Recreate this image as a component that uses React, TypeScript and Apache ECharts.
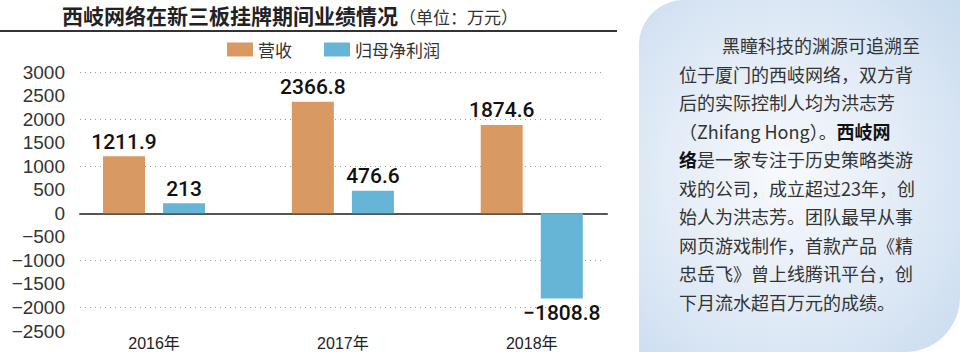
import React, { useEffect, useRef } from "react";
import * as echarts from "echarts";

const categories = ["2016年", "2017年", "2018年"];
const revenue = [1211.9, 2366.8, 1874.6];
const netProfit = [213, 476.6, -1808.8];
const seriesNames = ["营收", "归母净利润"];
const yLabelMin = -2500;
const yLabelMax = 3000;
const gridLineMin = -2000;
const titleMain = "西岐网络在新三板挂牌期间业绩情况";
const titleUnit = "（单位：万元）";
const panelLines = [
  "黑瞳科技的渊源可追溯至",
  "位于厦门的西岐网络，双方背",
  "后的实际控制人均为洪志芳",
  "{n|（Zhifang Hong）。}{b|西岐网}",
  "{b|络}{n|是一家专注于历史策略类游}",
  "戏的公司，成立超过23年，创",
  "始人为洪志芳。团队最早从事",
  "网页游戏制作，首款产品《精",
  "忠岳飞》曾上线腾讯平台，创",
  "下月流水超百万元的成绩。",
];

const ORANGE = "#D89A62";
const BLUE = "#67B5D6";
const SANS = "'Liberation Sans', Arial, 'Noto Sans CJK SC', sans-serif";
const NUM = "Roboto, 'Liberation Sans', Arial, sans-serif";
const CJK = "'Noto Sans CJK SC', 'Liberation Sans', sans-serif";

const fmt = (v: number) => (v < 0 ? "\u2212" : "") + Math.abs(v);

export default function App() {
  const ref = useRef<HTMLDivElement>(null);
  useEffect(() => {
    document.body.style.margin = "0";
    const chart = echarts.init(ref.current!, undefined, { renderer: "svg" });
    const toData = (arr: number[]) =>
      arr.map((v) => ({ value: v, label: { position: v < 0 ? "bottom" : "top" } }));
    const top = 72;
    const bottom = 24;
    const plotH = 355 - top - bottom;
    const bottom2 = 355 - (top + ((yLabelMax - gridLineMin) / (yLabelMax - yLabelMin)) * plotH);

    const panelText = panelLines.map((t, i) => ({
      type: "text",
      x: i === 0 ? 722 : 679,
      y: 45 + i * 28.5,
      style: {
        text: t,
        fill: "#333",
        fontSize: 18,
        fontFamily: CJK,
        verticalAlign: "middle",
        rich: {
          n: { fontSize: 18, fontFamily: CJK, fill: "#333" },
          b: { fontSize: 18, fontFamily: CJK, fontWeight: "bold", fill: "#111" },
        },
      },
      z: 10,
    }));

    const labelStyle = {
      show: true,
      distance: 4,
      fontSize: 21,
      fontWeight: 500,
      color: "#111",
      fontFamily: NUM,
      formatter: (p: any) => fmt(p.value),
    };

    chart.setOption({
      animation: false,
      legend: {
        data: seriesNames,
        left: 222,
        top: 36,
        itemWidth: 26,
        itemHeight: 14,
        itemGap: 32,
        icon: "rect",
        textStyle: { fontSize: 17, color: "#333", fontFamily: CJK },
      },
      grid: [
        { left: 59.6, right: 333.8, top, bottom },
        { left: 80, right: 353, top, bottom },
        { left: 80, right: 357, top, bottom: bottom2 },
      ],
      xAxis: [
        {
          type: "category",
          gridIndex: 0,
          data: categories,
          axisLine: { show: false, onZero: false },
          axisTick: { show: false },
          axisLabel: { fontSize: 16, color: "#222", fontFamily: SANS, margin: 4 },
        },
        {
          type: "value",
          gridIndex: 1,
          min: 0,
          max: 1,
          axisLine: { show: true, onZero: true, lineStyle: { color: "#555", width: 2 } },
          axisTick: { show: false },
          axisLabel: { show: false },
          splitLine: { show: false },
        },
        {
          type: "value",
          gridIndex: 2,
          min: 0,
          max: 1,
          show: false,
        },
      ],
      yAxis: [
        { type: "value", gridIndex: 0, min: yLabelMin, max: yLabelMax, show: false },
        {
          type: "value",
          gridIndex: 1,
          min: yLabelMin,
          max: yLabelMax,
          interval: 500,
          axisLine: { show: false },
          axisTick: { show: false },
          splitLine: { show: false },
          axisLabel: {
            fontSize: 19,
            color: "#333",
            fontFamily: SANS,
            margin: 15,
            formatter: (v: number) => fmt(v),
          },
        },
        {
          type: "value",
          gridIndex: 2,
          min: gridLineMin,
          max: yLabelMax,
          interval: 1000,
          axisLine: { show: false },
          axisTick: { show: false },
          axisLabel: { show: false },
          splitLine: { show: true, lineStyle: { color: "#999", width: 1, type: [1, 4] } },
        },
      ],
      series: [
        {
          name: seriesNames[0],
          type: "bar",
          xAxisIndex: 0,
          yAxisIndex: 0,
          data: toData(revenue),
          barWidth: 42,
          barGap: "43%",
          itemStyle: { color: ORANGE },
          label: labelStyle,
          z: 3,
        },
        {
          name: seriesNames[1],
          type: "bar",
          xAxisIndex: 0,
          yAxisIndex: 0,
          data: toData(netProfit),
          barWidth: 42,
          itemStyle: { color: BLUE },
          label: labelStyle,
          z: 3,
        },
      ],
      graphic: [
        {
          type: "rect",
          shape: { x: 639, y: 0, width: 321, height: 352, r: [45, 0, 55, 0] },
          style: {
            fill: new echarts.graphic.RadialGradient(0.45, 0.5, 0.75, [
              { offset: 0, color: "#f8fafd" },
              { offset: 0.55, color: "#e0eaf6" },
              { offset: 1, color: "#c8dbef" },
            ]),
          },
          z: 0,
        },
        ...panelText,
        {
          type: "text",
          x: 62,
          y: 15,
          style: {
            text: titleMain,
            fontSize: 21,
            fontWeight: "bold",
            fill: "#222",
            fontFamily: CJK,
            verticalAlign: "middle",
          },
        },
        {
          type: "text",
          x: 399,
          y: 16,
          style: {
            text: titleUnit,
            fontSize: 17,
            fill: "#333",
            fontFamily: CJK,
            verticalAlign: "middle",
          },
        },
        {
          type: "line",
          shape: { x1: 0, y1: 31, x2: 617, y2: 31 },
          style: { stroke: "#333", lineWidth: 2 },
        },
      ],
    });
    return () => chart.dispose();
  }, []);
  return <div ref={ref} style={{ width: 960, height: 355 }} />;
}
